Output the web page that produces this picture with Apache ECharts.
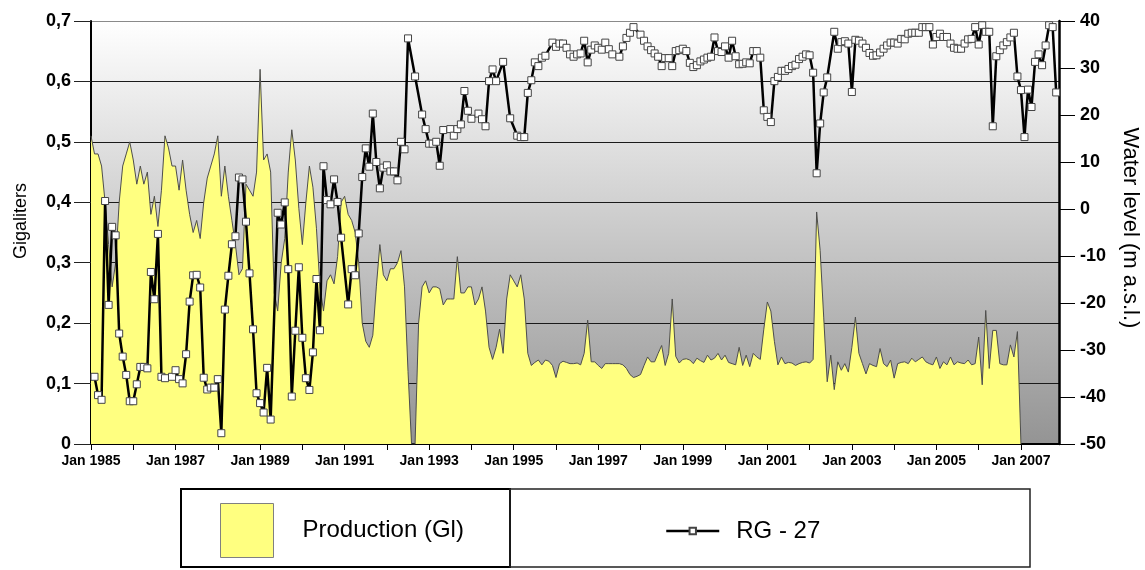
<!DOCTYPE html>
<html>
<head>
<meta charset="utf-8">
<title>Production and water level RG - 27</title>
<script src="https://cdn.jsdelivr.net/npm/echarts@6/dist/echarts.min.js"></script>
<style>
  html, body { margin: 0; padding: 0; background: #ffffff; }
  #chart { width: 1145px; height: 570px; }
</style>
</head>
<body>
<div id="chart"></div>
<script>
// Monthly series, index 0 = January 1985
const startYear = 1985;

// Monthly production in gigaliters, Jan 1985 .. Jan 2007
const productionGl = [
  0.51, 0.48, 0.48, 0.46, 0.40, 0.33, 0.26, 0.30, 0.40, 0.46, 0.48, 0.50,
  0.47, 0.43, 0.46, 0.43, 0.45, 0.38, 0.41, 0.36, 0.42, 0.51, 0.49, 0.46,
  0.46, 0.42, 0.47, 0.42, 0.38, 0.35, 0.37, 0.34, 0.40, 0.44, 0.46, 0.48,
  0.51, 0.41, 0.46, 0.41, 0.37, 0.33, 0.28, 0.29, 0.43, 0.42, 0.41, 0.45,
  0.62, 0.47, 0.48, 0.45, 0.25, 0.22, 0.30, 0.34, 0.45, 0.52, 0.47, 0.39,
  0.33, 0.40, 0.46, 0.425, 0.357, 0.26, 0.22, 0.27, 0.28, 0.265, 0.31, 0.40,
  0.41, 0.38, 0.37, 0.35, 0.30, 0.20, 0.17, 0.16, 0.18, 0.26, 0.33, 0.28,
  0.27, 0.29, 0.29, 0.30, 0.32, 0.26, 0.12, 0, 0, 0.20, 0.26, 0.27,
  0.25, 0.26, 0.26, 0.257, 0.23, 0.24, 0.24, 0.24, 0.31, 0.25, 0.25, 0.26,
  0.26, 0.23, 0.24, 0.26, 0.22, 0.16, 0.14, 0.16, 0.19, 0.15, 0.24, 0.28,
  0.27, 0.26, 0.28, 0.24, 0.15, 0.13, 0.135, 0.139, 0.131, 0.139, 0.137, 0.13,
  0.11, 0.133, 0.137, 0.135, 0.133, 0.133, 0.134, 0.131, 0.15, 0.205, 0.136, 0.136,
  0.13, 0.125, 0.133, 0.133, 0.133, 0.133, 0.133, 0.131, 0.125, 0.115, 0.11, 0.112,
  0.115, 0.13, 0.144, 0.136, 0.136, 0.15, 0.163, 0.13, 0.15, 0.24, 0.145, 0.134,
  0.14, 0.141, 0.139, 0.133, 0.142, 0.138, 0.135, 0.147, 0.139, 0.142, 0.15, 0.139,
  0.147, 0.135, 0.133, 0.131, 0.16, 0.13, 0.147, 0.128, 0.15, 0.144, 0.14, 0.19,
  0.235, 0.22, 0.17, 0.131, 0.144, 0.133, 0.135, 0.134, 0.13, 0.133, 0.135, 0.136,
  0.134, 0.14, 0.384, 0.32, 0.21, 0.103, 0.147, 0.09, 0.136, 0.122, 0.133, 0.119,
  0.16, 0.21, 0.15, 0.133, 0.116, 0.133, 0.13, 0.128, 0.158, 0.133, 0.128, 0.139,
  0.109, 0.133, 0.135, 0.136, 0.133, 0.142, 0.136, 0.14, 0.144, 0.136, 0.133, 0.131,
  0.144, 0.125, 0.136, 0.131, 0.144, 0.131, 0.136, 0.134, 0.133, 0.139, 0.131, 0.133,
  0.177, 0.098, 0.221, 0.125, 0.188, 0.188, 0.133, 0.131, 0.131, 0.164, 0.144, 0.186,
  0
];

// Monthly water level at RG - 27 in m a.s.l., Jan 1985 .. Nov 2007 (null = no reading)
const waterLevelRG27 = [
  null, -35.7, -39.6, -40.6, 1.7, -20.4, -3.8, -5.6, -26.5, -31.4, -35.3, -40.9,
  -40.9, -37.3, -33.6, -33.6, -33.9, -13.4, -19.2, -5.3, -35.7, -36.0, null, -35.7,
  -34.3, -36.2, -37.1, -30.9, -19.7, -14.1, -14.0, -16.7, -35.9, -38.4, -38.0, -38.0,
  -36.2, -47.7, -21.4, -14.2, -7.5, -5.8, 6.7, 6.3, -2.7, -13.7, -25.6, -39.2,
  -41.3, -43.3, -33.8, -44.8, null, -0.8, -3.3, 1.4, -12.8, -39.9, -25.9, -12.4,
  -27.4, -36.0, -38.5, -30.5, -14.9, -25.8, 9.1, 1.9, 1.0, 6.3, 1.5, -6.1,
  null, -20.3, -12.8, -14.1, -5.2, 6.8, 12.9, 9.0, 20.3, 10.0, 4.4, 8.8,
  9.3, 8.0, 8.0, 6.1, 14.3, 12.7, 36.3, null, 28.2, null, 20.1, 17.0,
  13.9, 13.9, 14.3, 9.2, 16.8, null, 17.0, 15.6, 17.0, 18.0, 25.1, 20.9,
  19.2, null, 20.3, 19.1, 17.6, 27.2, 29.7, 27.2, null, 31.3, null, 19.3,
  null, 15.6, 15.3, 15.3, 24.7, 27.4, 31.2, 30.4, 32.2, 32.6, null, 35.4,
  34.5, 35.2, 35.2, 34.3, 32.9, 32.4, 32.9, 33.1, 35.8, 31.2, 33.9, 34.8,
  34.3, 33.9, 35.4, 34.0, 32.9, null, 32.4, 34.6, 36.4, 37.5, 38.7, null,
  37.1, 35.8, 34.6, 33.8, 33.1, 32.4, 30.4, 32.1, 32.1, 30.4, 33.6, 33.8,
  34.1, 33.6, 31.1, 30.2, 30.6, 31.4, 31.8, 32.2, 32.4, 36.5, 33.6, 33.4,
  34.6, 32.2, 35.8, 32.5, 30.8, 30.9, 31.2, 31.0, 33.6, 33.6, 32.2, 21.0,
  19.6, 18.5, 27.2, 28.1, 29.4, 29.4, 29.8, 30.4, 30.7, 31.9, 32.4, 32.9,
  32.7, 29.0, 7.6, 18.2, 24.8, 28.0, null, 37.7, 34.1, 35.5, 35.7, 35.2,
  24.9, 36.0, 35.8, 35.2, 34.3, 33.2, 32.6, 32.7, 33.3, 34.1, 34.8, 35.4,
  35.4, 35.2, 36.2, 36.1, 37.3, 37.5, 37.5, 37.5, 38.7, 38.7, 38.7, 35.0,
  36.6, 37.3, 36.6, 36.6, 35.2, 34.3, 34.1, 34.1, 35.2, 36.1, 36.2, 38.7,
  35.0, 39.1, 37.7, 37.7, 17.6, 32.5, 33.8, 34.8, 35.5, 36.5, 37.5, 28.2,
  25.3, 15.3, 25.4, 21.7, 31.3, 32.9, 30.6, 34.8, 39.1, 38.7, 24.8
];

// Axis ranges
const productionAxis = { min: 0, max: 0.7, step: 0.1 };
const levelAxis = { min: -50, max: 40, step: 10 };
const monthSpan = { first: 0, last: 274.8 };

const font = 'Liberation Sans, Arial, Helvetica, sans-serif';

const chart = echarts.init(document.getElementById('chart'), null, { renderer: 'canvas' });

chart.setOption({
  animation: false,
  textStyle: { fontFamily: font, color: '#000' },
  grid: {
    left: 91, top: 21, width: 968, height: 423,
    show: true,
    borderWidth: 0,
    backgroundColor: {
      type: 'linear', x: 0, y: 0, x2: 0, y2: 1,
      colorStops: [
        { offset: 0, color: '#ffffff' },
        { offset: 1, color: '#949494' }
      ]
    }
  },
  xAxis: {
    type: 'value',
    min: monthSpan.first,
    max: monthSpan.last,
    interval: 12,
    axisLine: { show: true, lineStyle: { color: '#000', width: 2 } },
    axisTick: { show: true, length: 6, lineStyle: { color: '#000', width: 1 } },
    axisLabel: {
      showMaxLabel: false,
      margin: 10,
      fontSize: 14,
      fontWeight: 'bold',
      color: '#000',
      fontFamily: font,
      formatter: v => (Math.abs(v % 24) < 1e-6 ? 'Jan ' + (startYear + v / 12) : '')
    },
    splitLine: { show: false }
  },
  yAxis: [
    {
      type: 'value',
      position: 'left',
      min: productionAxis.min,
      max: productionAxis.max,
      interval: productionAxis.step,
      axisLine: { show: true, lineStyle: { color: '#000', width: 2 } },
      axisTick: { show: true, length: 17, lineStyle: { color: '#222', width: 1 } },
      axisLabel: {
        margin: 20,
        fontSize: 18,
        fontWeight: 'bold',
        color: '#000',
        fontFamily: font,
        formatter: v => (v === 0 ? '0' : v.toFixed(1).replace('.', ','))
      },
      splitLine: {
        show: true,
        lineStyle: {
          width: 1,
          color: ['#000', '#1a1a1a', '#1a1a1a', '#1a1a1a', '#1a1a1a', '#1a1a1a', '#1a1a1a', '#8a8a8a']
        }
      }
    },
    {
      type: 'value',
      position: 'right',
      min: levelAxis.min,
      max: levelAxis.max,
      interval: levelAxis.step,
      axisLine: { show: true, lineStyle: { color: '#000', width: 2.5 } },
      axisTick: { show: true, length: 16, lineStyle: { color: '#000', width: 1 } },
      axisLabel: {
        margin: 21,
        fontSize: 18,
        fontWeight: 'bold',
        color: '#000',
        fontFamily: font
      },
      splitLine: { show: false }
    }
  ],
  legend: [
    {
      data: [{ name: 'Production (Gl)', icon: 'rect' }],
      left: 220, top: 503,
      padding: 0,
      itemWidth: 53, itemHeight: 54,
      selectedMode: false,
      itemStyle: { color: '#FFFF80', borderColor: '#808080', borderWidth: 1 },
      textStyle: { fontSize: 24, color: '#000', fontFamily: font, padding: [0, 0, 0, 24] }
    },
    {
      data: ['RG - 27'],
      left: 665, top: 519,
      padding: 0,
      itemWidth: 53, itemHeight: 8,
      selectedMode: false,
      lineStyle: { color: '#000', width: 2.5 },
      textStyle: { fontSize: 24, color: '#000', fontFamily: font, padding: [0, 0, 0, 12] }
    }
  ],
  graphic: [
    {
      type: 'rect',
      shape: { x: 181, y: 489, width: 329, height: 78 },
      style: { fill: 'none', stroke: '#000', lineWidth: 2 }
    },
    {
      type: 'rect',
      shape: { x: 510, y: 489, width: 520, height: 78 },
      style: { fill: 'none', stroke: '#222', lineWidth: 1.5 }
    },
    {
      type: 'text',
      x: 21, y: 221,
      rotation: Math.PI / 2,
      style: {
        text: 'Gigaliters', fontSize: 18, fontFamily: font, fill: '#000',
        align: 'center', verticalAlign: 'middle'
      }
    },
    {
      type: 'text',
      x: 1130, y: 228,
      rotation: -Math.PI / 2,
      style: {
        text: 'Water level (m a.s.l.)', fontSize: 22, fontFamily: font, fill: '#000',
        align: 'center', verticalAlign: 'middle'
      }
    }
  ],
  series: [
    {
      name: 'Production (Gl)',
      type: 'line',
      yAxisIndex: 0,
      data: productionGl.map((v, i) => [i, v]),
      symbol: 'none',
      lineStyle: { color: '#4d4d4d', width: 1 },
      itemStyle: { color: '#FFFF80' },
      areaStyle: { color: '#FFFF80', opacity: 1 },
      silent: true,
      z: 2
    },
    {
      name: 'RG - 27',
      type: 'line',
      yAxisIndex: 1,
      data: waterLevelRG27.map((v, i) => [i, v === null ? '-' : v]),
      connectNulls: true,
      showAllSymbol: true,
      symbol: 'rect',
      symbolSize: 7,
      lineStyle: { color: '#000', width: 2.5 },
      itemStyle: { color: '#ffffff', borderColor: '#444', borderWidth: 1 },
      silent: true,
      z: 3
    }
  ]
});
</script>
</body>
</html>
